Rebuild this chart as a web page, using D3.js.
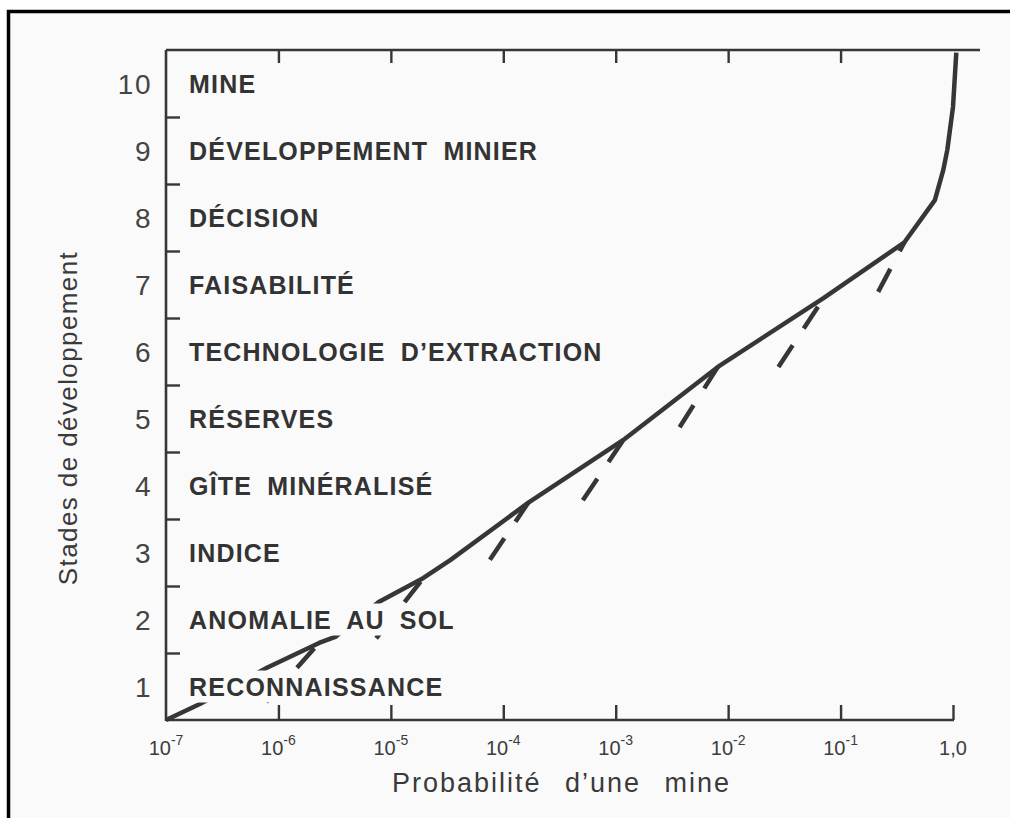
<!DOCTYPE html>
<html>
<head>
<meta charset="utf-8">
<script src="https://cdn.jsdelivr.net/npm/d3@7"></script>
<style>
  html, body { margin: 0; padding: 0; background: #ffffff; }
  svg { display: block; }
  text { font-family: "Liberation Sans", Arial, Helvetica, sans-serif; }
</style>
</head>
<body>
<svg id="chart" width="1010" height="818"></svg>
<script>
// ---------------- data ----------------
const stageNames = ["RECONNAISSANCE", "ANOMALIE AU SOL", "INDICE", "GÎTE MINÉRALISÉ", "RÉSERVES",
  "TECHNOLOGIE D’EXTRACTION", "FAISABILITÉ", "DÉCISION", "DÉVELOPPEMENT MINIER", "MINE"];
const stageNumbers = [1, 2, 3, 4, 5, 6, 7, 8, 9, 10];
const xTickValues = [1e-7, 1e-6, 1e-5, 1e-4, 1e-3, 1e-2, 1e-1, 1];
const xTickBases = ["10", "10", "10", "10", "10", "10", "10", "1,0"];
const xTickExps = ["-7", "-6", "-5", "-4", "-3", "-2", "-1", ""];
const xTitle = "Probabilité d’une mine";
const yTitle = "Stades de développement";

// solid curve: probability vs stage (continuous stage value)
const curveProb  = [1e-7, 2.0e-7, 7.9e-7, 2.3e-6, 3.2e-6, 7.8e-6, 1.95e-5, 3.4e-5, 1.66e-4, 1.17e-3, 8.1e-3, 0.071, 0.37, 0.69, 0.82, 0.89, 1.0, 1.07];
const curveStage = [0, 0.24, 0.78, 1.15, 1.24, 1.76, 2.12, 2.39, 3.24, 4.18, 5.27, 6.30, 7.13, 7.76, 8.21, 8.51, 9.15, 9.96];

// dashed branches: from lower-left end up to the junction on the curve
const dashEndProb  = [7.8e-7, 7.4e-6, 7.6e-5, 5.1e-4, 3.7e-3, 0.028, 0.216];
const dashEndStage = [0.27, 1.22, 2.39, 3.28, 4.37, 5.27, 6.39];
const dashTopProb  = [2.3e-6, 1.95e-5, 1.66e-4, 1.17e-3, 8.1e-3, 0.071, 0.37];
const dashTopStage = [1.15, 2.12, 3.24, 4.18, 5.27, 6.30, 7.13];

// ---------------- layout ----------------
const svg = d3.select("#chart");
const W = 1010, H = 818;
const plot = { left: 166, right: 953, top: 50, bottom: 720 };
const ink = "#363636";
const paper = "#fafafa";
const FONT = '"Liberation Sans", Arial, Helvetica, sans-serif';

// page frame (only top and left edges visible)
svg.append("rect").attr("x", 0).attr("y", 0).attr("width", W).attr("height", H).attr("fill", "#ffffff");
svg.append("rect").attr("x", 8.5).attr("y", 11.5).attr("width", W + 20).attr("height", H + 20)
  .attr("fill", paper).attr("stroke", "#000").attr("stroke-width", 3.5);

const x = d3.scaleLog().domain([1e-7, 1]).range([plot.left, plot.right]);
const y = d3.scaleLinear().domain([0, 10]).range([plot.bottom, plot.top]);

const axisStyle = g => {
  g.selectAll("path.domain").remove();
  g.selectAll(".tick line").attr("stroke", ink).attr("stroke-width", 2.4);
};

// bottom axis
svg.append("g").attr("transform", `translate(0,${plot.bottom})`)
  .call(d3.axisBottom(x).tickValues(xTickValues.slice(1)).tickSizeInner(-15).tickSizeOuter(0).tickFormat(() => ""))
  .call(axisStyle);
svg.append("line").attr("x1", plot.left).attr("x2", plot.right + 1).attr("y1", plot.bottom).attr("y2", plot.bottom)
  .attr("stroke", ink).attr("stroke-width", 2.6);

// bottom tick labels (with superscripts)
xTickValues.forEach((v, i) => {
  const t = svg.append("text").attr("x", x(v)).attr("y", plot.bottom + 35)
    .attr("text-anchor", "middle").attr("font-size", 20).attr("fill", "#3c3c3c");
  t.append("tspan").text(xTickBases[i]);
  if (xTickExps[i]) t.append("tspan").attr("dy", -10).attr("font-size", 14).text(xTickExps[i]);
});

// top axis
svg.append("g").attr("transform", `translate(0,${plot.top})`)
  .call(d3.axisTop(x).tickValues(xTickValues.slice(1, -1)).tickSizeInner(-13).tickSizeOuter(0).tickFormat(() => ""))
  .call(axisStyle);
svg.append("line").attr("x1", plot.left).attr("x2", plot.right + 27).attr("y1", plot.top).attr("y2", plot.top)
  .attr("stroke", ink).attr("stroke-width", 2.4);

// left axis
svg.append("g").attr("transform", `translate(${plot.left},0)`)
  .call(d3.axisLeft(y).tickValues(d3.range(1, 10)).tickSizeInner(-14).tickSizeOuter(0).tickFormat(() => ""))
  .call(axisStyle);
svg.append("line").attr("x1", plot.left).attr("x2", plot.left).attr("y1", plot.top).attr("y2", plot.bottom + 1)
  .attr("stroke", ink).attr("stroke-width", 2.6);

// stage numbers
stageNumbers.forEach(n => {
  svg.append("text").attr("x", plot.left - 14).attr("y", y(n - 0.5)).attr("dy", "0.36em")
    .attr("text-anchor", "end").attr("font-size", 28).attr("letter-spacing", 1.5)
    .attr("fill", "#444").text(n);
});

// curve
const line = d3.line().x(d => x(d[0])).y(d => y(d[1]));
svg.append("path").datum(curveProb.map((p, i) => [p, curveStage[i]]))
  .attr("d", line).attr("fill", "none").attr("stroke", ink).attr("stroke-width", 4.5)
  .attr("stroke-linejoin", "round").attr("stroke-linecap", "butt");

// dashed branches
dashEndProb.forEach((p, i) => {
  svg.append("path").datum([[p, dashEndStage[i]], [dashTopProb[i], dashTopStage[i]]])
    .attr("d", line).attr("fill", "none").attr("stroke", ink).attr("stroke-width", 4.5)
    .attr("stroke-dasharray", "26,20");
});

// stage labels with paper-coloured backing (masks the curve)
const LS = 1.2, WS = 7, LSIZE = 25;
const ctx = document.createElement("canvas").getContext("2d");
ctx.font = `bold ${LSIZE}px ${FONT}`;
const maskG = svg.append("g").attr("class", "label-masks");
const labelG = svg.append("g").attr("class", "labels");
stageNames.forEach((s, i) => {
  const cy = y(i + 0.5);
  const spaces = (s.match(/ /g) || []).length;
  const w = ctx.measureText(s).width + LS * s.length + WS * spaces;
  maskG.append("rect").attr("x", plot.left + 19).attr("y", cy - 16).attr("width", w + 6).attr("height", 32)
    .attr("fill", paper);
  labelG.append("text").attr("x", plot.left + 23).attr("y", cy).attr("dy", "0.36em")
    .attr("font-size", LSIZE).attr("font-weight", "bold").attr("letter-spacing", LS).attr("word-spacing", WS)
    .attr("fill", "#333").text(s);
});

// axis titles
svg.append("text").attr("x", (plot.left + plot.right) / 2 + 2).attr("y", 792)
  .attr("text-anchor", "middle").attr("font-size", 27).attr("letter-spacing", 2).attr("word-spacing", 14)
  .attr("fill", "#3a3a3a").text(xTitle);
svg.append("text").attr("transform", `translate(77,${(plot.top + plot.bottom) / 2 + 33}) rotate(-90)`)
  .attr("text-anchor", "middle").attr("font-size", 26).attr("letter-spacing", 1.4).attr("fill", "#3a3a3a").text(yTitle);
</script>
</body>
</html>
